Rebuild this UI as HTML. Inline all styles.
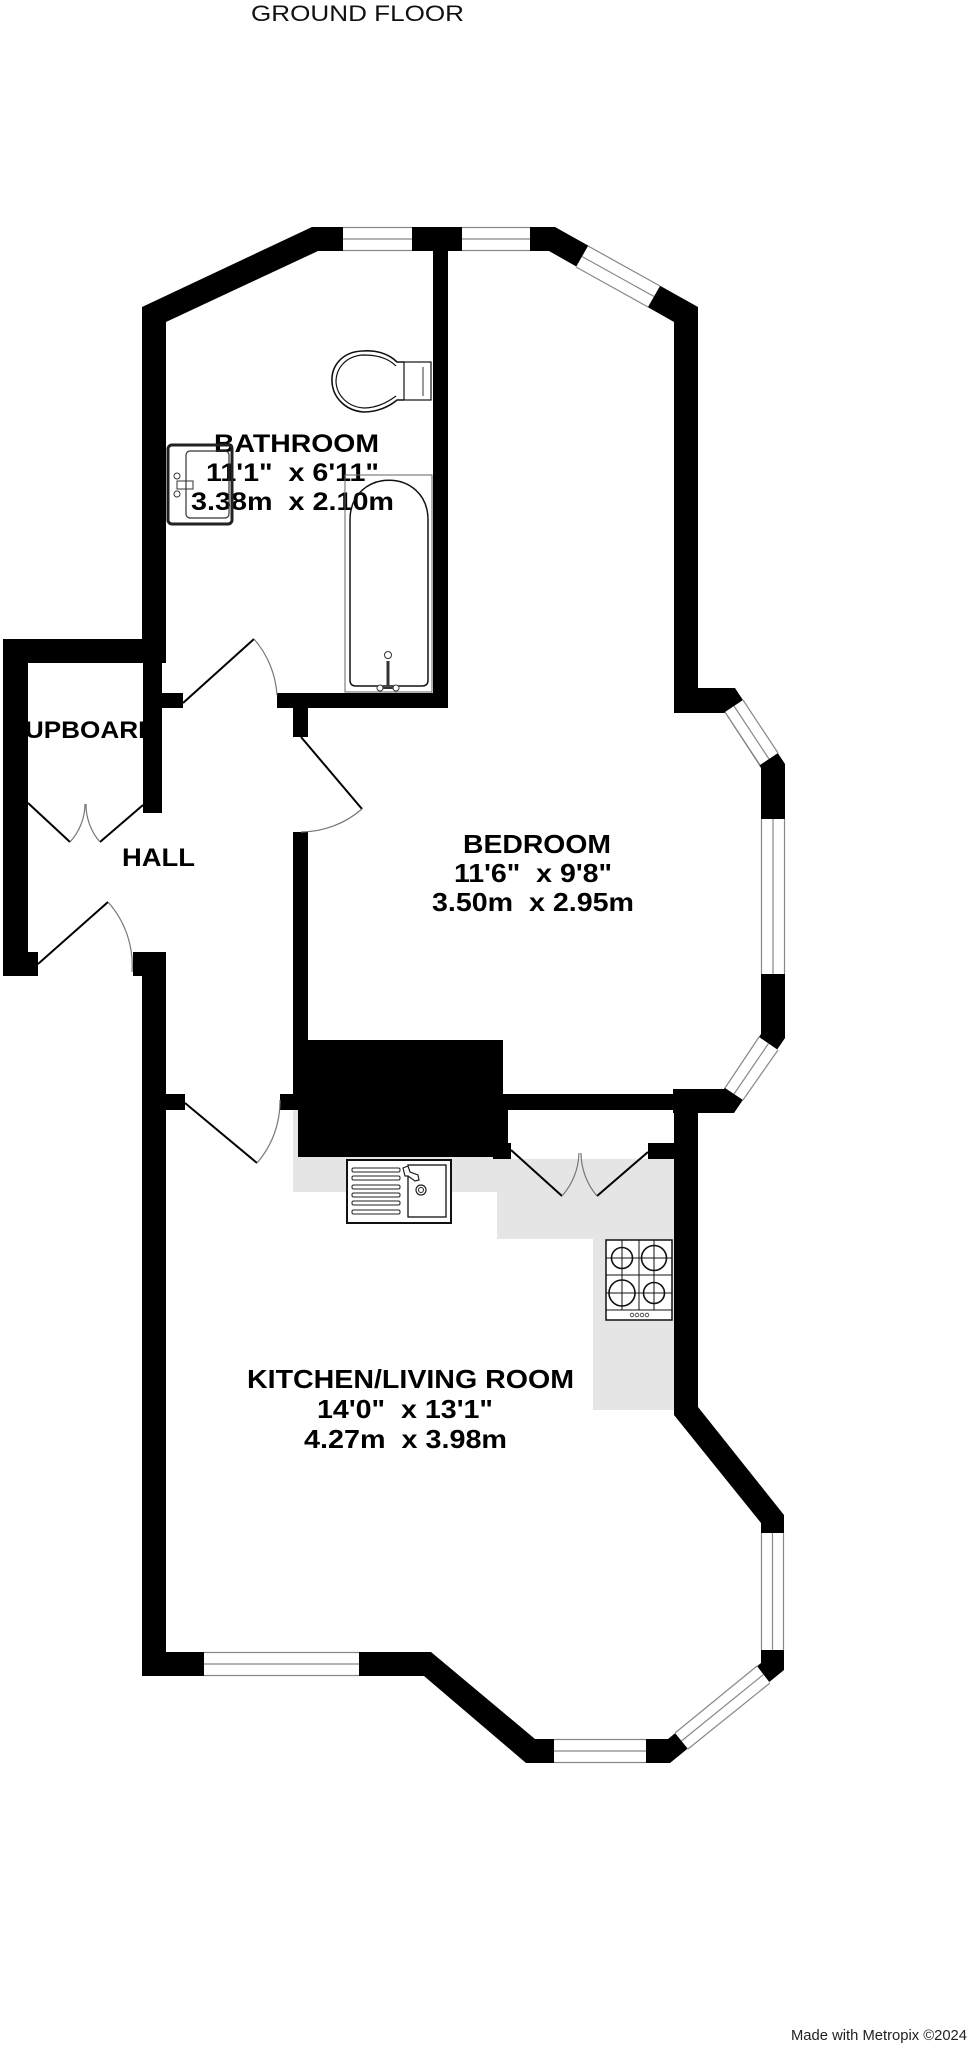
<!DOCTYPE html>
<html><head><meta charset="utf-8">
<style>
html,body{margin:0;padding:0;background:#fff;}
svg{display:block;}
text{font-family:"Liberation Sans",Arial,sans-serif;white-space:pre;}
</style></head><body>
<svg width="973" height="2048" viewBox="0 0 973 2048" xmlns="http://www.w3.org/2000/svg">

<!-- grey kitchen counter -->
<polygon fill="#e5e5e5" points="293,1110 298,1110 298,1157 511,1157 511,1159 674,1159 674,1410 593,1410 593,1239 497,1239 497,1192 293,1192"/>

<!-- title & footer -->
<text x="251" y="21" font-size="22" fill="#111" textLength="213" lengthAdjust="spacingAndGlyphs">GROUND FLOOR</text>
<text x="791" y="2040" font-size="15" fill="#222" textLength="176" lengthAdjust="spacingAndGlyphs">Made with Metropix ©2024</text>

<!-- room labels -->
<g font-weight="bold" fill="#000">
<text x="214" y="452" font-size="25" textLength="165" lengthAdjust="spacingAndGlyphs">BATHROOM</text>
<text x="206" y="481" font-size="25" textLength="173" lengthAdjust="spacingAndGlyphs">11'1"  x 6'11"</text>
<text x="191" y="510" font-size="25" textLength="203" lengthAdjust="spacingAndGlyphs">3.38m  x 2.10m</text>

<text x="6" y="738" font-size="24" textLength="151" lengthAdjust="spacingAndGlyphs">CUPBOARD</text>
<text x="122" y="866" font-size="25" textLength="73" lengthAdjust="spacingAndGlyphs">HALL</text>

<text x="463" y="853" font-size="26" textLength="148" lengthAdjust="spacingAndGlyphs">BEDROOM</text>
<text x="454" y="882" font-size="26" textLength="158" lengthAdjust="spacingAndGlyphs">11'6"  x 9'8"</text>
<text x="432" y="911" font-size="26" textLength="202" lengthAdjust="spacingAndGlyphs">3.50m  x 2.95m</text>

<text x="247" y="1388" font-size="26" textLength="327" lengthAdjust="spacingAndGlyphs">KITCHEN/LIVING ROOM</text>
<text x="317" y="1418" font-size="26" textLength="176" lengthAdjust="spacingAndGlyphs">14'0"  x 13'1"</text>
<text x="304" y="1448" font-size="26" textLength="203" lengthAdjust="spacingAndGlyphs">4.27m  x 3.98m</text>
</g>

<!-- bathroom fixtures -->
<g fill="none">
  <!-- bath -->
  <rect x="345" y="475" width="87" height="217" stroke="#666" stroke-width="1"/>
  <path d="M350,680 L350,520 C350,467 428,467 428,520 L428,680 Q428,686 422,686 L356,686 Q350,686 350,680 Z" stroke="#111" stroke-width="1.5"/>
  <circle cx="388" cy="655" r="3.5" stroke="#333" stroke-width="1"/>
  <line x1="388" y1="661" x2="388" y2="686" stroke="#333" stroke-width="3"/>
  <line x1="378" y1="688" x2="398" y2="688" stroke="#333" stroke-width="2"/>
  <circle cx="380" cy="688" r="3" stroke="#333" stroke-width="1" fill="#fff"/>
  <circle cx="396" cy="688" r="3" stroke="#333" stroke-width="1" fill="#fff"/>
  <!-- toilet -->
  <path d="M404,362 L397,362 C388,353 375,350 362,351 C342,352 331,366 332,382 C333,398 346,411 364,412 C378,412 390,406 397,400 L404,400" stroke="#111" stroke-width="1.6"/>
  <path d="M396,366 C387,357 375,355 363,355 C346,356 336,368 336,382 C337,396 348,407 364,408 C377,408 388,402 396,396" stroke="#111" stroke-width="1.2"/>
  <rect x="404" y="362" width="27" height="38" stroke="#111" stroke-width="1.2" fill="#fff"/>
  <line x1="423" y1="367" x2="423" y2="396" stroke="#333" stroke-width="1"/>
  <!-- wash basin -->
  <rect x="168" y="445" width="64" height="79" rx="4" stroke="#222" stroke-width="3"/>
  <rect x="186" y="451" width="43" height="67" rx="4" stroke="#333" stroke-width="1.2"/>
  <rect x="177" y="481" width="16" height="8" stroke="#333" stroke-width="1"/>
  <circle cx="177" cy="476" r="3" stroke="#333" stroke-width="1" fill="#fff"/>
  <circle cx="177" cy="494" r="3" stroke="#333" stroke-width="1" fill="#fff"/>
</g>

<!-- kitchen fixtures -->
<g fill="none">
  <rect x="347" y="1160" width="104" height="63" stroke="#111" stroke-width="2" fill="#fff"/>
  <rect x="408" y="1165" width="38" height="52" stroke="#111" stroke-width="1.3"/>
  <g stroke="#222" stroke-width="1">
    <rect x="352" y="1168" width="48" height="4" rx="1.5"/>
    <rect x="352" y="1176" width="48" height="4" rx="1.5"/>
    <rect x="352" y="1185" width="48" height="4" rx="1.5"/>
    <rect x="352" y="1193" width="48" height="4" rx="1.5"/>
    <rect x="352" y="1201" width="48" height="4" rx="1.5"/>
    <rect x="352" y="1210" width="48" height="4" rx="1.5"/>
  </g>
  <circle cx="421" cy="1190" r="5" stroke="#222" stroke-width="1.2"/>
  <circle cx="421" cy="1190" r="2.5" stroke="#222" stroke-width="1"/>
  <path d="M403,1168 L408,1166 L410,1172 L418,1175 L419,1180 L415,1181 L408,1176 L405,1176 Z" stroke="#222" stroke-width="1.2" fill="#fff"/>
  <!-- hob -->
  <rect x="606" y="1240" width="66" height="80" stroke="#111" stroke-width="1.5" fill="#fff"/>
  <g stroke="#111" stroke-width="1">
    <line x1="606" y1="1275" x2="672" y2="1275"/>
    <line x1="606" y1="1310" x2="672" y2="1310"/>
    <line x1="639" y1="1240" x2="639" y2="1310"/>
    <line x1="606" y1="1258" x2="672" y2="1258"/>
    <line x1="606" y1="1293" x2="672" y2="1293"/>
    <line x1="622" y1="1240" x2="622" y2="1310"/>
    <line x1="654" y1="1240" x2="654" y2="1310"/>
  </g>
  <g stroke="#111" stroke-width="1.6" fill="none">
    <circle cx="622" cy="1258" r="10.5"/>
    <circle cx="654" cy="1258" r="12.5"/>
    <circle cx="622" cy="1293" r="13"/>
    <circle cx="654" cy="1293" r="10.5"/>
  </g>
  <g stroke="#333" stroke-width="0.8">
    <circle cx="632" cy="1315" r="1.8"/>
    <circle cx="637" cy="1315" r="1.8"/>
    <circle cx="642" cy="1315" r="1.8"/>
    <circle cx="647" cy="1315" r="1.8"/>
  </g>
</g>

<!-- walls -->
<g fill="#000">
  <!-- bathroom / top -->
  <rect x="142" y="307" width="24" height="356"/>
  <polygon points="142,307 312,227 318,251 166,322"/>
  <rect x="312" y="227" width="243" height="24"/>
  <polygon points="555,227 698,307 674,322 549,251"/>
  <rect x="674" y="307" width="24" height="400"/>
  <!-- bedroom bay -->
  <polygon points="674,688 735,688 785,764 785,1038 734,1113 673,1113 673,1089 724,1089 761,1034 761,768 725,713 674,713"/>
  <rect x="433" y="251" width="15" height="457"/>
  <rect x="277" y="693" width="171" height="15"/>
  <rect x="162" y="693" width="21" height="15"/>
  <!-- cupboard -->
  <rect x="3" y="639" width="163" height="24"/>
  <rect x="3" y="639" width="25" height="337"/>
  <rect x="3" y="952" width="35" height="24"/>
  <rect x="143" y="663" width="19" height="150"/>
  <!-- hall -->
  <rect x="133" y="952" width="33" height="24"/>
  <rect x="142" y="952" width="24" height="724"/>
  <!-- bedroom left wall -->
  <rect x="293" y="708" width="15" height="29"/>
  <rect x="293" y="832" width="15" height="210"/>
  <!-- chimney -->
  <rect x="293" y="1040" width="210" height="56"/>
  <rect x="298" y="1108" width="210" height="49"/>
  <rect x="493" y="1143" width="18" height="16"/>
  <!-- bedroom / kitchen wall -->
  <rect x="280" y="1094" width="396" height="16"/>
  <rect x="166" y="1094" width="19" height="16"/>
  <rect x="648" y="1143" width="26" height="16"/>
  <!-- kitchen -->
  <rect x="142" y="1652" width="289" height="24"/>
  <polygon points="674,1100 698,1100 698,1407 784,1515 784,1670 670,1763 526,1763 424,1676 431,1652 535,1739 668,1739 761,1663 761,1523 674,1415"/>
</g>

<!-- windows -->
<g fill="#fff" stroke="none">
  <rect x="343" y="227" width="69" height="24"/>
  <rect x="462" y="227" width="68" height="24"/>
  <polygon points="588,246 660,286 648,307 576,267"/>
  <polygon points="743,700 778,753 760,765 725,712"/>
  <rect x="761" y="819" width="24" height="155"/>
  <polygon points="759,1037 778,1050 743,1100 725,1088"/>
  <rect x="204" y="1652" width="155" height="24"/>
  <rect x="554" y="1739" width="92" height="24"/>
  <rect x="761" y="1533" width="23" height="117"/>
  <polygon points="757,1666 770,1683 688,1749 675,1733"/>
</g>
<g stroke="#888" stroke-width="1.2" fill="none">
  <path d="M343,227.5H412M343,239H412M343,250.5H412"/>
  <path d="M462,227.5H530M462,239H530M462,250.5H530"/>
  <path d="M588,246L660,286M582,256.5L654,296.5M576,267L648,307"/>
  <path d="M743,700L778,753M734,706L769,759M725,712L760,765"/>
  <path d="M761.5,819V974M773,819V974M784.5,819V974"/>
  <path d="M778,1050L743,1100M768.5,1043.5L734,1094M759,1037L725,1088"/>
  <path d="M204,1652.5H359M204,1664H359M204,1675.5H359"/>
  <path d="M554,1739.5H646M554,1751H646M554,1762.5H646"/>
  <path d="M761.5,1533V1650M772.5,1533V1650M783.5,1533V1650"/>
  <path d="M770,1683L688,1749M763.5,1674.5L681.5,1741M757,1666L675,1733"/>
</g>

<!-- doors -->
<g stroke="#000" stroke-width="2" fill="none">
  <line x1="183" y1="703" x2="254" y2="639"/>
  <line x1="301" y1="737" x2="362" y2="809"/>
  <line x1="185" y1="1103" x2="257" y2="1163"/>
  <line x1="38" y1="964" x2="108" y2="902"/>
  <line x1="28" y1="803" x2="70" y2="842"/>
  <line x1="143" y1="805" x2="100" y2="842"/>
  <line x1="511" y1="1150" x2="562" y2="1196"/>
  <line x1="648" y1="1152" x2="597" y2="1196"/>
</g>
<g stroke="#777" stroke-width="1.2" fill="none">
  <path d="M254,639 A94,94 0 0,1 277,695"/>
  <path d="M362,809 A94,94 0 0,1 301,832"/>
  <path d="M257,1163 A94,94 0 0,0 280,1100"/>
  <path d="M108,902 A95,95 0 0,1 132,972"/>
  <path d="M70,842 A57,57 0 0,0 85,804"/>
  <path d="M100,842 A57,57 0 0,1 86,804"/>
  <path d="M562,1196 A69,69 0 0,0 579,1153"/>
  <path d="M597,1196 A67,67 0 0,1 581,1153"/>
</g>
</svg>
</body></html>
